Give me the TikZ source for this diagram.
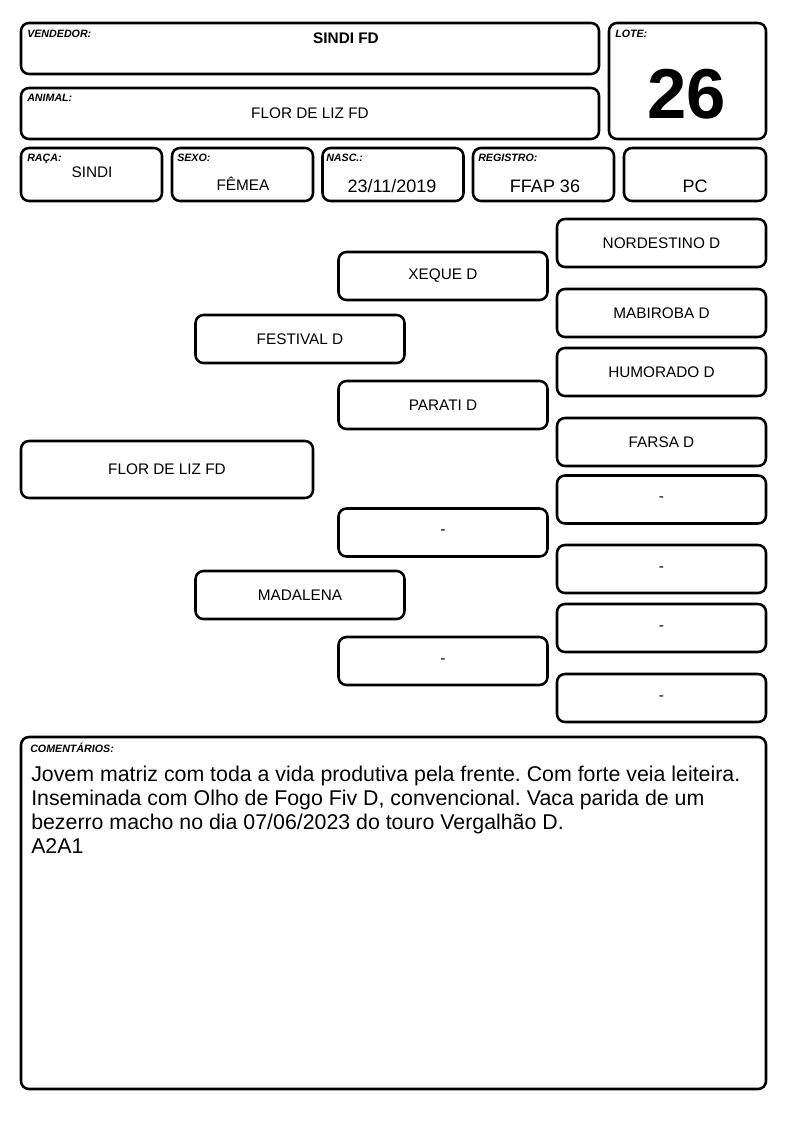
\documentclass[tikz,border=0pt]{standalone}
\usepackage{fontspec}
\setmainfont{Liberation Sans}
\frenchspacing
\begin{document}
\begin{tikzpicture}[x=0.75pt,y=-0.75pt,
    caixa/.style={draw, line width=1.9pt, rounded corners=6pt, inner sep=0pt},
    ped/.style={caixa, minimum width=156.75pt, minimum height=36pt, font=\fontsize{11.5}{13}\selectfont},
    rotulo/.style={anchor=north west, inner sep=0pt, font=\fontsize{8}{9}\selectfont\bfseries\itshape},
    valor/.style={inner sep=0pt, font=\fontsize{11.5}{13}\selectfont},
    grande/.style={inner sep=0pt, font=\fontsize{13.5}{15}\selectfont}]
    \useasboundingbox (0,0) rectangle (794,1123);

    % cabecalho
    \node [caixa, minimum width=433.5pt, minimum height=38.25pt] (vend) at (310,48.5) {};
    \node [caixa, minimum width=433.5pt, minimum height=38.25pt] (animal) at (310,113.5) {};
    \node [caixa, minimum width=117.75pt, minimum height=87pt] (lote) at (687.5,81) {};
    \node [caixa, minimum width=105.75pt, minimum height=39.75pt] (raca) at (91.5,174.5) {};
    \node [caixa, minimum width=105.75pt, minimum height=39.75pt] (sexo) at (242.5,174.5) {};
    \node [caixa, minimum width=105.75pt, minimum height=39.75pt] (nasc) at (393,174.5) {};
    \node [caixa, minimum width=105.75pt, minimum height=39.75pt] (reg) at (543.5,174.5) {};
    \node [caixa, minimum width=106.5pt, minimum height=39.75pt] (pc) at (695,174.5) {};

    \node [rotulo] (vendrot) at (27,30) {VENDEDOR:};
    \node [rotulo] (animalrot) at (27,94) {ANIMAL:};
    \node [rotulo] (loterot) at (615,30) {LOTE:};
    \node [rotulo] (racarot) at (27,154) {RAÇA:};
    \node [rotulo] (sexorot) at (177,154) {SEXO:};
    \node [rotulo] (nascrot) at (326,154) {NASC.:};
    \node [rotulo] (regrot) at (478,154) {REGISTRO:};

    \node [valor, font=\fontsize{11.5}{13}\selectfont\bfseries] (vendval) at (346,38) {SINDI FD};
    \node [valor] (animalval) at (310,113) {FLOR DE LIZ FD};
    \node [inner sep=0pt, font=\fontsize{53}{60}\selectfont\bfseries] (loteval) at (687,94) {26};
    \node [valor] (racaval) at (92,172) {SINDI};
    \node [valor] (sexoval) at (243,184) {FÊMEA};
    \node [grande] (nascval) at (392,186) {23/11/2019};
    \node [grande] (regval) at (545,186) {FFAP 36};
    \node [grande] (pcval) at (695,186) {PC};

    % genealogia
    \node [caixa, minimum width=219pt, minimum height=42.75pt, font=\fontsize{11.5}{13}\selectfont] (filha) at (167,469.5) {FLOR DE LIZ FD};
    \node [ped] (pai) at (300,339) {FESTIVAL D};
    \node [ped] (mae) at (300,595) {MADALENA};
    \node [ped] (avopp) at (443,276) {XEQUE D};
    \node [ped] (avopm) at (443,405) {PARATI D};
    \node [ped] (avomp) at (443,532.5) {-};
    \node [ped] (avomm) at (443,661) {-};
    \node [ped] (bis1) at (661.5,243) {NORDESTINO D};
    \node [ped] (bis2) at (661.5,313) {MABIROBA D};
    \node [ped] (bis3) at (661.5,372) {HUMORADO D};
    \node [ped] (bis4) at (661.5,442) {FARSA D};
    \node [ped] (bis5) at (661.5,499.5) {-};
    \node [ped] (bis6) at (661.5,569) {-};
    \node [ped] (bis7) at (661.5,628) {-};
    \node [ped] (bis8) at (661.5,698) {-};

    % comentarios
    \node [caixa, minimum width=558.75pt, minimum height=264pt] (coment) at (393.5,913) {};
    \node [rotulo] (comentrot) at (30,743) {COMENTÁRIOS:};
    \node [anchor=north west, inner sep=0pt, align=left,
        font=\fontsize{16}{18}\selectfont] (comenttxt) at (31,766)
        {Jovem matriz com toda a vida produtiva pela frente. Com forte veia leiteira.\\
        Inseminada com Olho de Fogo Fiv D, convencional. Vaca parida de um\\
        bezerro macho no dia 07/06/2023 do touro Vergalhão D.\\
        A2A1};
\end{tikzpicture}
\end{document}
